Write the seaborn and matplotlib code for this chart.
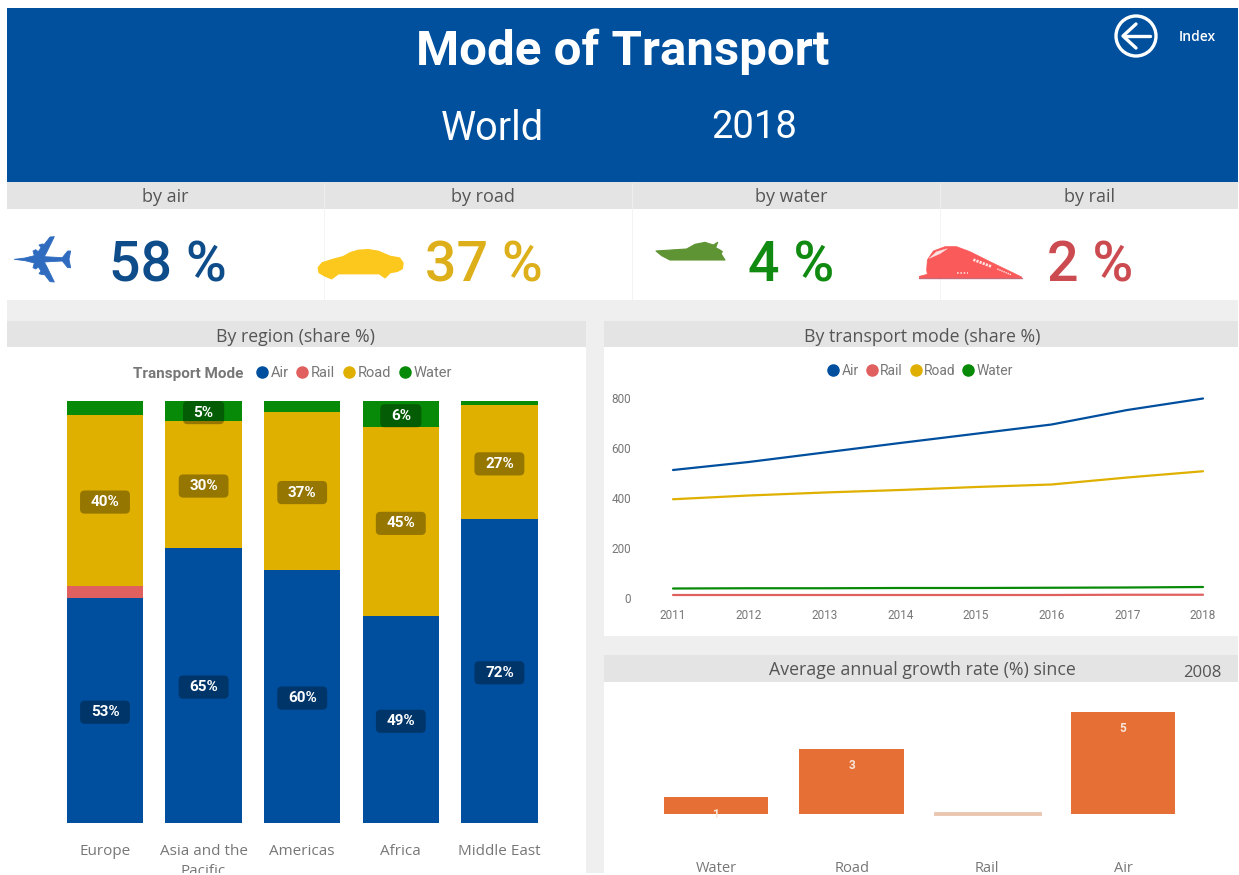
import matplotlib
matplotlib.use("Agg")
import matplotlib.pyplot as plt
from matplotlib.lines import Line2D
from matplotlib.patches import Rectangle, Polygon, Circle, BoxStyle
from matplotlib.transforms import ScaledTranslation
import numpy as np
import pandas as pd
import seaborn as sns

modes = ["Air", "Rail", "Road", "Water"]
regions = ["Europe", "Asia and the\nPacific", "Americas", "Africa", "Middle East"]
air_share = [53.3, 65.2, 60.0, 49.0, 72.0]
rail_share = [2.9, 0.0, 0.0, 0.0, 0.0]
road_share = [40.5, 30.1, 37.4, 44.8, 27.0]
water_share = [3.3, 4.7, 2.6, 6.2, 1.0]

years = [2011, 2012, 2013, 2014, 2015, 2016, 2017, 2018]
air_line = [520, 552, 590, 628, 665, 702, 760, 806]
rail_line = [20, 20, 20, 20, 20, 20, 21, 21]
road_line = [403, 418, 430, 440, 452, 462, 490, 515]
water_line = [46, 47, 47, 48, 48, 49, 50, 52]

growth_modes = ["Water", "Road", "Rail", "Air"]
growth_values = [0.83, 3.2, 0.05, 5.0]

kpi_names = ["by air", "by road", "by water", "by rail"]
kpi_values = ["58 %", "37 %", "4 %", "2 %"]

colors = {"Air": "#004F9E", "Rail": "#E0605F", "Road": "#DFB000", "Water": "#078A07"}
BAND = "#E4E4E4"
DIN = "Roboto"
UI = "Open Sans"
GREY = "#777777"

sns.set_theme(style="white")
W, H = 1239, 875
fig = plt.figure(figsize=(W / 100, H / 100), dpi=100, facecolor="white")


def pix_axes(x0, y0, x1, y1, **kw):
    return fig.add_axes([x0 / W, 1 - y1 / H, (x1 - x0) / W, (y1 - y0) / H], **kw)


class WideRound(BoxStyle.Round):
    def __call__(self, x0, y0, w, h, ms):
        return super().__call__(x0 - 6, y0, w + 12, h, ms)


bg = pix_axes(0, 0, W, H, zorder=0)
bg.set_xlim(0, W); bg.set_ylim(H, 0); bg.axis("off")
for x0, y0, x1, y1, c in [
    (7, 8, 1238, 873, "#EFEFEF"),
    (7, 8, 1238, 182, "#00509D"),
    (7, 182, 1238, 209, BAND),
    (7, 209, 1238, 300, "white"),
    (7, 321, 586, 347, BAND),
    (7, 347, 586, 873, "white"),
    (604, 321, 1238, 347, BAND),
    (604, 347, 1238, 636, "white"),
    (604, 655, 1238, 682, BAND),
    (604, 682, 1238, 873, "white"),
]:
    bg.add_patch(Rectangle((x0, y0), x1 - x0, y1 - y0, fc=c, ec="none"))
for x in (324, 632, 940):
    bg.plot([x, x], [183, 300], color="#F1F1F1", lw=0.6)

bg.text(623, 52, "Mode of Transport", color="white", fontsize=35.5, fontweight="bold", family=DIN, ha="center", va="center")
bg.text(492, 128, "World", color="white", fontsize=28.5, family=DIN, ha="center", va="center")
bg.text(754, 128, "2018", color="white", fontsize=27.5, family=DIN, ha="center", va="center")
bg.text(1197, 37, "Index", color="white", fontsize=10, fontweight="semibold", family=UI, ha="center", va="center")
bg.add_patch(Circle((1136, 36), 20, fc="none", ec="white", lw=2.4))
bg.plot([1124, 1150], [36, 36], color="white", lw=2.4)
bg.plot([1136, 1123, 1136], [24, 36, 48], color="white", lw=2.4)

for cx, name in zip((165, 483, 791, 1089), kpi_names):
    bg.text(cx, 197.5, name, color="#555555", fontsize=13, family=UI, ha="center", va="center")
kpi_cols = ["#0F4C8A", "#DDB01B", "#118A12", "#CC4B50"]
for cx, val, c in zip((167.5, 484, 791, 1090.5), kpi_values, kpi_cols):
    bg.text(cx, 265.5, val, color=c, fontsize=40, fontweight="medium", family=DIN, ha="center", va="center")


# Decorative KPI icons, traced in zoom-crop units (3x) from a crop origin
def icon(pts, ox, oy, color, z=2, lw=1.0):
    xy = [(ox + a / 3, oy + b / 3) for a, b in pts]
    bg.add_patch(Polygon(xy, closed=True, fc=color, ec=color, lw=lw, joinstyle="round", zorder=z))


upper = [(28, 103), (60, 99), (88, 92), (84, 78), (92, 74), (100, 80), (108, 68), (102, 60), (112, 57), (118, 58),
         (135, 36), (148, 35), (126, 80), (118, 95), (172, 98), (188, 78), (197, 78), (192, 103)]
lower = [(a, 206 - b) for a, b in reversed(upper[1:-1])]
icon(upper + lower, 5, 225, "#2F6CC0", lw=0.6)

car = [(26, 98), (38, 84), (70, 74), (100, 66), (122, 54), (145, 47), (175, 45), (205, 50), (240, 65), (268, 70),
       (278, 84), (276, 100), (262, 108), (240, 112), (225, 127), (208, 115), (85, 115), (65, 130), (45, 122), (28, 112)]
icon(car, 310, 235, "#FDC81E", lw=1.5)

boat = [(33, 48), (125, 42), (150, 28), (180, 22), (205, 30), (218, 22), (212, 38), (225, 45), (232, 50), (228, 56),
        (240, 75), (75, 75), (50, 62)]
icon(boat, 645, 235, "#5F9434", lw=0.8)

train = [(50, 105), (52, 75), (70, 48), (105, 35), (140, 35), (180, 50), (240, 80), (335, 126), (335, 130), (28, 130),
         (28, 124), (52, 118)]
icon(train, 910, 235, "#FA5A5A", lw=0.5)
icon([(58, 70), (80, 50), (112, 41), (90, 56)], 910, 235, "#FBE3E3", z=3, lw=0.3)
bg.plot([910 + 190 / 3, 910 + 245 / 3], [235 + 74 / 3, 235 + 95 / 3], color="#FDE5E5", lw=2, ls=(0, (0.8, 0.4)), zorder=3)
bg.plot([910 + 262 / 3, 910 + 305 / 3], [235 + 102 / 3, 235 + 120 / 3], color="#FDE5E5", lw=1, ls=(0, (1, 0.6)), zorder=3)
bg.plot([910 + 140 / 3, 910 + 175 / 3], [235 + 115 / 3, 235 + 115 / 3], color="#FDD5D5", lw=1.2, ls=(0, (1, 1)), zorder=3)
bg.plot([910 + 28 / 3, 910 + 335 / 3], [235 + 128 / 3, 235 + 128 / 3], color="#C96A78", lw=1.0, zorder=3)

bg.text(296, 337, "By region (share %)", color="#555555", fontsize=12.8, family=UI, ha="center", va="center")
bg.text(922, 337, "By transport mode (share %)", color="#555555", fontsize=12.8, family=UI, ha="center", va="center")
bg.text(922, 670, "Average annual growth rate (%) since", color="#555555", fontsize=12.8, family=UI, ha="center", va="center")
bg.text(1202, 673, "2008", color="#555555", fontsize=12, family=UI, ha="center", va="center")
bg.text(133, 374, "Transport Mode", color=GREY, fontsize=11, fontweight="bold", family=DIN, ha="left", va="center")

# Stacked bars
ax1 = pix_axes(55.7, 401, 548.7, 823, zorder=2)
ax1.patch.set_alpha(0)
shares = pd.DataFrame({"Region": regions, "Air": air_share, "Rail": rail_share, "Road": road_share, "Water": water_share})
cum = shares[modes].cumsum(axis=1)
for m in reversed(modes):
    sns.barplot(x=shares["Region"], y=cum[m], color=colors[m], width=0.775, saturation=1, ax=ax1, order=regions, linewidth=0)
for i in range(len(regions)):
    for m in modes:
        v = shares[m][i]
        if v >= 4.5:
            ax1.text(i, cum[m][i] - v / 2 - 0.4, f"{v:.0f}%", color="white", fontsize=11, fontweight="bold", family=DIN,
                     ha="center", va="center",
                     bbox=dict(boxstyle=WideRound(pad=0.3, rounding_size=0.3), fc="black", ec="none", alpha=0.33))
ax1.set_xlim(-0.5, 4.5); ax1.set_ylim(0, 100)
ax1.set_xlabel(""); ax1.set_ylabel(""); ax1.set_yticks([])
ax1.tick_params(axis="x", length=0, pad=15, labelsize=11, labelcolor=GREY)
for t in ax1.get_xticklabels():
    t.set_family(UI); t.set_linespacing(1.5); t.set_va("top")
sns.despine(ax=ax1, left=True, bottom=True)

handles = [Line2D([], [], marker="o", ls="", ms=8, color=colors[m], label=m) for m in modes]
leg_kw = dict(ncols=4, frameon=False, handletextpad=0.0, handlelength=1.2,
              borderpad=0, borderaxespad=0, labelcolor=GREY)
ax1.legend(handles=handles, columnspacing=0.35, prop={"family": DIN, "size": 10.5}, loc="center left",
           bbox_to_anchor=(253 / W, 1 - 373 / H), bbox_transform=fig.transFigure, **leg_kw)

# Lines
ax2 = pix_axes(673, 400, 1203, 600, zorder=2)
ax2.patch.set_alpha(0)
lines = pd.DataFrame({"Year": years, "Air": air_line, "Rail": rail_line, "Road": road_line, "Water": water_line}).melt(
    "Year", var_name="Mode", value_name="Value")
sns.lineplot(data=lines, x="Year", y="Value", hue="Mode", palette=colors, linewidth=1.6, ax=ax2, legend=False)
ax2.set_xlim(2011, 2018); ax2.set_ylim(0, 800)
ax2.set_xticks(years); ax2.set_yticks([0, 200, 400, 600, 800])
ax2.set_xlabel(""); ax2.set_ylabel("")
ax2.tick_params(length=0, labelsize=8.5, labelcolor=GREY)
ax2.tick_params(axis="x", pad=6.5)
ax2.tick_params(axis="y", pad=30)
for t in ax2.get_xticklabels() + ax2.get_yticklabels():
    t.set_family(DIN)
for t in ax2.get_yticklabels():
    t.set_transform(t.get_transform() + ScaledTranslation(0, 2 / 100, fig.dpi_scale_trans))
sns.despine(ax=ax2, left=True, bottom=True)
for ln in ax2.get_lines():
    ln.set_clip_on(False)
handles2 = [Line2D([], [], marker="o", ls="", ms=8, color=colors[m], label=m) for m in modes]
ax2.legend(handles=handles2, columnspacing=0.33, prop={"family": DIN, "size": 10}, loc="center left",
           bbox_to_anchor=(825 / W, 1 - 371 / H), bbox_transform=fig.transFigure, **leg_kw)

# Growth bars
ax3 = pix_axes(648, 692, 1191, 814, zorder=2)
ax3.patch.set_alpha(0)
sns.barplot(x=growth_modes, y=growth_values, color="#E56F34", width=0.77, saturation=1, ax=ax3, linewidth=0)
ax3.patches[2].set_facecolor("#E9C4AE")
ax3.patches[2].set_edgecolor("#E9C4AE")
ax3.patches[2].set_linewidth(2)
ax3.patches[2].set_clip_on(False)
ax3.set_xlim(-0.5, 3.5); ax3.set_ylim(0, 122 / 20.4)
ax3.set_yticks([]); ax3.set_xlabel(""); ax3.set_ylabel("")
ax3.tick_params(axis="x", length=0, pad=33.5, labelsize=10.5, labelcolor=GREY)
for t in ax3.get_xticklabels():
    t.set_family(UI)
sns.despine(ax=ax3, left=True, bottom=True)
for i, v in enumerate(growth_values):
    if v >= 0.5:
        ax3.annotate(f"{v:.0f}", (i, v), xytext=(0, -17), textcoords="offset pixels", color="#F8E6D8", fontsize=8.5,
                     fontweight="bold", family=DIN, ha="center", va="center")

# White edge clipping at the bottom
top = pix_axes(0, 0, W, H, zorder=5)
top.set_xlim(0, W); top.set_ylim(H, 0); top.axis("off")
top.add_patch(Rectangle((0, 873), W, 2, fc="white", ec="none"))

fig.savefig("out.png", dpi=100, facecolor="white")
